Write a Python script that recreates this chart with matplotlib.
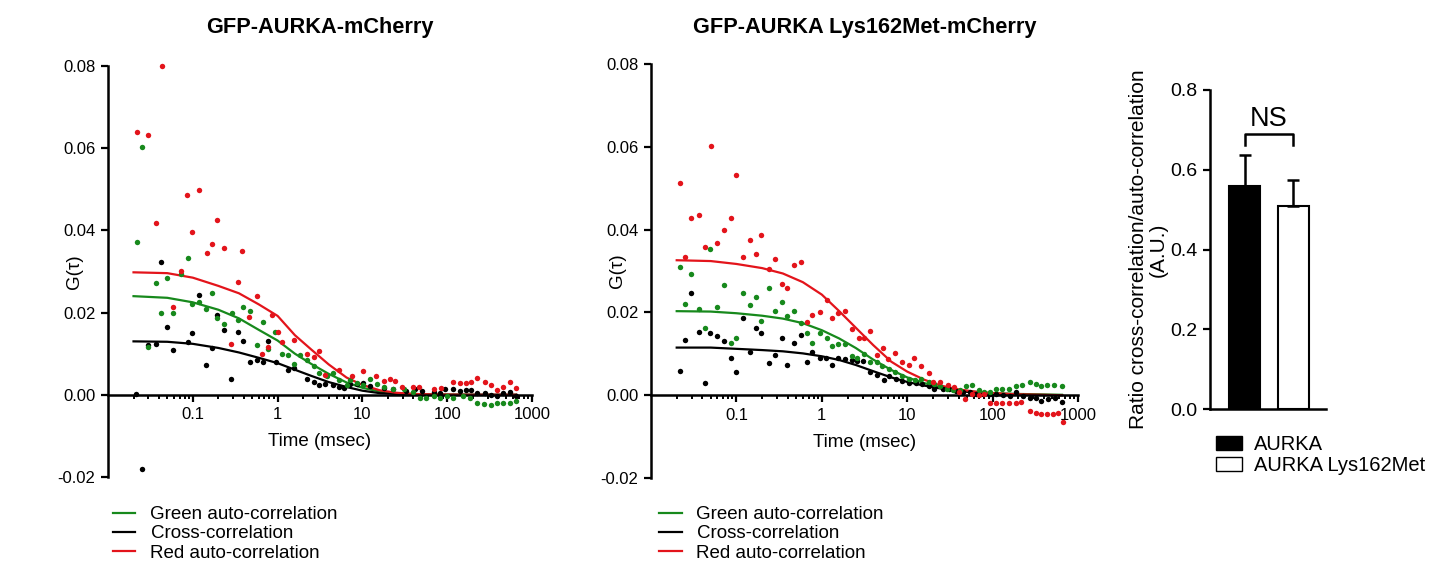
import matplotlib
matplotlib.use("Agg")
import matplotlib.pyplot as plt
from matplotlib.patches import Patch
from matplotlib.ticker import LogLocator, NullFormatter

plt.rcParams["font.family"] = ["Liberation Sans", "DejaVu Sans"]
plt.rcParams["axes.unicode_minus"] = False

# ---- FCS data, wild type (GFP-AURKA-mCherry) ----
wt_red_t = [0.0218, 0.0298, 0.0367, 0.0432, 0.059, 0.072, 0.085, 0.099, 0.118, 0.146, 0.17,
            0.195, 0.234, 0.285, 0.341, 0.385, 0.46, 0.575, 0.66, 0.78, 0.87, 1.0, 1.13, 1.55,
            2.24, 2.69, 3.1, 3.67, 5.25, 7.6, 10.3, 14.6, 17.8, 20.9, 24.0, 29.4, 40, 47, 69,
            85, 116, 140, 166, 190, 227, 281, 326, 384, 460, 550, 649]
wt_red_g = [0.064, 0.0631, 0.0419, 0.0801, 0.0214, 0.0301, 0.0486, 0.0396, 0.0498, 0.0346, 0.0366,
            0.0425, 0.0358, 0.0124, 0.0275, 0.035, 0.019, 0.024, 0.010, 0.0116, 0.0195, 0.0154,
            0.0128, 0.0134, 0.010, 0.0091, 0.0106, 0.0047, 0.0061, 0.0045, 0.0059, 0.0045, 0.0034,
            0.0039, 0.0034, 0.002, 0.002, 0.002, 0.0014, 0.0016, 0.003, 0.0028, 0.0028, 0.003,
            0.004, 0.003, 0.0024, 0.0012, 0.0018, 0.003, 0.0016]

wt_green_t = [0.0218, 0.0249, 0.03, 0.0367, 0.0427, 0.0494, 0.059, 0.072, 0.0866, 0.099, 0.118,
              0.145, 0.17, 0.195, 0.234, 0.287, 0.341, 0.39, 0.468, 0.575, 0.67, 0.78, 0.93, 1.13,
              1.33, 1.55, 1.86, 2.24, 2.69, 3.06, 3.8, 4.52, 5.35, 6.5, 7.2, 8.6, 10.3, 12.4, 14.8,
              17.8, 23, 30.6, 40, 48, 57, 69, 82, 99, 118, 155, 185, 227, 270, 330, 390, 460,
              550, 649]
wt_green_g = [0.0372, 0.0604, 0.0116, 0.0271, 0.0198, 0.0285, 0.0199, 0.0293, 0.0332, 0.022, 0.0225,
              0.0209, 0.0248, 0.0187, 0.0172, 0.0199, 0.0181, 0.0213, 0.0203, 0.012, 0.0177, 0.0111,
              0.0154, 0.0099, 0.0096, 0.0076, 0.0096, 0.0084, 0.0069, 0.0053, 0.0045, 0.0053, 0.0035,
              0.0024, 0.0037, 0.0028, 0.0024, 0.0038, 0.0026, 0.0019, 0.0014, 0.0014, 0.0008,
              -0.0007, -0.0007, -0.0004, -0.0007, -0.0004, -0.0007, -0.0004, -0.0007, -0.002,
              -0.0022, -0.0024, -0.002, -0.002, -0.002, -0.0016]

wt_cross_t = [0.0213, 0.025, 0.03, 0.0367, 0.0427, 0.049, 0.059, 0.087, 0.099, 0.118, 0.145, 0.17,
              0.195, 0.234, 0.285, 0.34, 0.39, 0.47, 0.575, 0.67, 0.78, 0.95, 1.33, 1.58, 2.24,
              2.69, 3.06, 3.67, 4.5, 5.35, 6.1, 7.2, 8.6, 10.3, 12.4, 17.8, 23, 33, 42, 50, 69, 82,
              95, 116, 140, 166, 190, 227, 281, 330, 384, 460, 550, 649]
wt_cross_g = [0.0002, -0.0181, 0.0122, 0.0124, 0.0323, 0.0165, 0.0108, 0.0128, 0.015, 0.0244,
              0.0073, 0.0114, 0.0193, 0.0157, 0.0038, 0.0152, 0.0132, 0.008, 0.0084, 0.0079,
              0.0132, 0.0079, 0.0061, 0.0065, 0.0039, 0.0032, 0.0024, 0.0026, 0.0024, 0.002,
              0.0016, 0.0026, 0.0026, 0.0028, 0.0022, 0.0016, 0.0014, 0.001, 0.0014, 0.001, 0.0008,
              0.0004, 0.0014, 0.0014, 0.001, 0.0012, 0.0012, 0.0004, 0.0004, 0.0, -0.0004, 0.0004,
              0.0006, -0.0004]

# fitted curves
fit_t = [0.02, 0.05, 0.1, 0.2, 0.35, 0.6, 1.0, 1.6, 2.5, 4, 6.5, 10, 16, 25, 40, 65, 100, 200, 650]
wt_red_fit = [0.0298, 0.0296, 0.0285, 0.0265, 0.0247, 0.0220, 0.0192, 0.0145, 0.0110, 0.0074,
              0.0042, 0.0024, 0.0011, 0.0005, 0.0002, 0.0001, 0.00005, 0.0, 0.0]
wt_green_fit = [0.0240, 0.0236, 0.0225, 0.0207, 0.0186, 0.0158, 0.0132, 0.0100, 0.0075, 0.0051,
                0.0030, 0.0017, 0.0008, 0.0004, 0.0002, 0.0001, 0.00005, 0.0, 0.0]
wt_cross_fit = [0.0130, 0.0129, 0.0124, 0.0114, 0.0103, 0.0090, 0.0077, 0.0061, 0.0046, 0.0031,
                0.0019, 0.0010, 0.0004, 0.0002, 0.0001, 0.0, 0.0, 0.0, 0.0]

# ---- FCS data, kinase dead (GFP-AURKA Lys162Met-mCherry) ----
mut_red_t = [0.0218, 0.0249, 0.0298, 0.0367, 0.0428, 0.0499, 0.0598, 0.0722, 0.0857, 0.099,
             0.1186, 0.145, 0.17, 0.195, 0.238, 0.285, 0.341, 0.391, 0.469, 0.571, 0.672, 0.769,
             0.94, 1.15, 1.32, 1.54, 1.86, 2.24, 2.73, 3.12, 3.67, 4.47, 5.26, 5.88, 7.2, 8.8,
             10.5, 12.1, 14.5, 17.8, 20.2, 24.3, 29.8, 35.7, 40.8, 48, 57.8, 69, 80, 93.7, 110,
             129, 155, 186, 217, 272, 320, 373, 437, 512, 588, 661]
mut_red_g = [0.0512, 0.0333, 0.0428, 0.0436, 0.0359, 0.0601, 0.0367, 0.0399, 0.0428, 0.0532,
             0.0334, 0.0375, 0.0341, 0.0386, 0.0306, 0.033, 0.0268, 0.026, 0.0314, 0.0322, 0.0176,
             0.0193, 0.0201, 0.0229, 0.0186, 0.0198, 0.0204, 0.0159, 0.0137, 0.0139, 0.0155,
             0.0097, 0.0115, 0.0087, 0.0103, 0.0079, 0.0072, 0.0089, 0.0071, 0.0053, 0.0031,
             0.0031, 0.0024, 0.0019, 0.0007, -0.0008, 0.0002, 0.0, 0.0002, -0.0019, -0.0018,
             -0.0019, -0.0019, -0.0018, -0.0016, -0.0038, -0.0042, -0.0046, -0.0046, -0.0046,
             -0.0043, -0.0064]

mut_green_t = [0.0218, 0.0249, 0.0298, 0.0367, 0.0428, 0.049, 0.0598, 0.0722, 0.0857, 0.099,
               0.1186, 0.145, 0.17, 0.195, 0.238, 0.285, 0.341, 0.391, 0.469, 0.571, 0.672, 0.769,
               0.94, 1.15, 1.32, 1.54, 1.86, 2.27, 2.6, 3.12, 3.67, 4.47, 5.1, 6.1, 7.2, 8.8, 10.5,
               12.4, 14.5, 17.8, 20.7, 24.3, 29.1, 34.7, 41.6, 49, 57.8, 69, 80, 93.7, 110, 129,
               155, 186, 222, 272, 320, 373, 437, 530, 644]
mut_green_g = [0.031, 0.022, 0.0292, 0.0208, 0.0163, 0.0354, 0.0213, 0.0266, 0.0126, 0.0138,
               0.0246, 0.0217, 0.0237, 0.018, 0.026, 0.0204, 0.0225, 0.0192, 0.0204, 0.0174,
               0.0150, 0.0127, 0.0151, 0.0137, 0.0119, 0.0123, 0.0123, 0.0095, 0.0091, 0.0099,
               0.0079, 0.0079, 0.0071, 0.0063, 0.0055, 0.0047, 0.004, 0.0037, 0.004, 0.0031,
               0.0027, 0.0022, 0.0016, 0.0013, 0.0013, 0.0022, 0.0024, 0.0013, 0.0007, 0.0008,
               0.0016, 0.0016, 0.0016, 0.0022, 0.0024, 0.0031, 0.0027, 0.0022, 0.0024, 0.0024,
               0.0022]

mut_cross_t = [0.0218, 0.0249, 0.0298, 0.0367, 0.0428, 0.049, 0.0598, 0.0722, 0.0857, 0.099,
               0.1186, 0.145, 0.17, 0.195, 0.238, 0.285, 0.341, 0.391, 0.469, 0.571, 0.672, 0.769,
               0.94, 1.13, 1.32, 1.54, 1.86, 2.24, 2.6, 3.07, 3.67, 4.47, 5.35, 6.1, 7.4, 8.8,
               10.5, 12.7, 15, 18.1, 20.7, 26, 31, 37, 44.6, 53.7, 64, 77, 92, 110, 132, 158, 189,
               226, 272, 326, 373, 447, 535, 644]
mut_cross_g = [0.0059, 0.0134, 0.0246, 0.0153, 0.0029, 0.0151, 0.0143, 0.0131, 0.0091, 0.0055,
               0.0186, 0.0105, 0.0163, 0.015, 0.0077, 0.0097, 0.0137, 0.0072, 0.0127, 0.0145,
               0.0079, 0.0105, 0.0091, 0.0091, 0.0072, 0.0089, 0.0087, 0.0085, 0.0083, 0.0083,
               0.0055, 0.0048, 0.0037, 0.0047, 0.004, 0.0035, 0.0029, 0.0029, 0.0027, 0.0022,
               0.0016, 0.0016, 0.0015, 0.001, 0.0007, 0.0007, 0.0004, 0.0004, 0.0002, 0.0004, 0.0,
               -0.0002, 0.0007, -0.0002, -0.0006, -0.0006, -0.0014, -0.001, -0.0006, -0.0016]

mut_red_fit = [0.0326, 0.0324, 0.0317, 0.0307, 0.0294, 0.0273, 0.0243, 0.0203, 0.0163, 0.0121,
               0.0081, 0.0057, 0.0037, 0.0023, 0.0014, 0.0008, 0.0005, 0.0002, 0.0]
mut_green_fit = [0.0203, 0.0202, 0.0198, 0.0192, 0.0185, 0.0174, 0.0157, 0.0137, 0.0114, 0.0086,
                 0.0061, 0.0043, 0.0029, 0.0019, 0.0012, 0.0008, 0.0005, 0.0003, 0.0001]
mut_cross_fit = [0.0115, 0.0115, 0.0112, 0.0109, 0.0106, 0.0101, 0.0094, 0.0085, 0.0073, 0.0058,
                 0.0043, 0.0032, 0.0023, 0.0016, 0.0010, 0.0006, 0.0003, 0.0001, 0.0]

# ---- bar chart ----
bar_labels = ["AURKA", "AURKA Lys162Met"]
ratio_mean = [0.56, 0.508]
ratio_err = [0.078, 0.066]

RED = "#e3141b"
GREEN = "#17891c"
BLACK = "#000000"
COLS = [GREEN, BLACK, RED]


def fcs_panel(ax, title, pts, fits, legend_xy):
    handles = []
    for (ft, fg), c in zip(fits, COLS):
        h, = ax.plot(ft, fg, color=c, lw=1.6, zorder=2)
        handles.append(h)
    # dots: cross first, then green, then red on top
    for i in [1, 0, 2]:
        t, g = pts[i]
        ax.plot(t, g, "o", ms=3.9, mec="none", color=COLS[i], zorder=3, clip_on=False)

    ax.set_xscale("log")
    ax.set_xlim(0.01, 1000)
    ax.set_ylim(-0.02, 0.08)
    ax.set_xticks([0.1, 1, 10, 100, 1000])
    ax.set_xticklabels(["0.1", "1", "10", "100", "1000"])
    ax.xaxis.set_minor_locator(LogLocator(base=10, subs=range(2, 10), numticks=20))
    ax.xaxis.set_minor_formatter(NullFormatter())
    ax.set_yticks([-0.02, 0.0, 0.02, 0.04, 0.06, 0.08])
    ax.set_yticklabels(["-0.02", "0.00", "0.02", "0.04", "0.06", "0.08"])
    for s in ["top", "right"]:
        ax.spines[s].set_visible(False)
    ax.spines["bottom"].set_position(("data", 0))
    ax.spines["left"].set_linewidth(1.8)
    ax.spines["bottom"].set_linewidth(1.8)
    ax.tick_params(axis="both", which="major", labelsize=12, width=1.6, length=5, pad=4)
    ax.tick_params(axis="x", which="minor", width=1.4, length=3)
    ax.set_xlabel("Time (msec)", fontsize=13.5, labelpad=8)
    ax.set_ylabel("G(τ)", fontsize=13.5)
    ax.yaxis.set_label_coords(-0.058, 0.5)
    pos = ax.get_position()
    fig.text((pos.x0 + pos.x1) / 2, 1 - 28 / 562, title, fontsize=15.7, fontweight="bold",
             ha="center", va="center")
    ax.legend(handles=handles,
              labels=["Green auto-correlation", "Cross-correlation", "Red auto-correlation"],
              loc="upper left", bbox_to_anchor=legend_xy, bbox_transform=fig.transFigure,
              frameon=False, fontsize=13.5, handlelength=1.2, handletextpad=0.8,
              labelspacing=0.12, borderpad=0, borderaxespad=0)


fig = plt.figure(figsize=(14.38, 5.62), dpi=100)

ax1 = fig.add_axes([108 / 1438, 85 / 562, 424 / 1438, 411 / 562])
fcs_panel(ax1, "GFP-AURKA-mCherry",
          [(wt_green_t, wt_green_g), (wt_cross_t, wt_cross_g), (wt_red_t, wt_red_g)],
          [(fit_t, wt_green_fit), (fit_t, wt_cross_fit), (fit_t, wt_red_fit)],
          (113 / 1438, 1 - 506 / 562))

ax2 = fig.add_axes([651 / 1438, 84 / 562, 427 / 1438, 414 / 562])
fcs_panel(ax2, "GFP-AURKA Lys162Met-mCherry",
          [(mut_green_t, mut_green_g), (mut_cross_t, mut_cross_g), (mut_red_t, mut_red_g)],
          [(fit_t, mut_green_fit), (fit_t, mut_cross_fit), (fit_t, mut_red_fit)],
          (659 / 1438, 1 - 506 / 562))

# bar chart
ax3 = fig.add_axes([1210 / 1438, 153 / 562, 116 / 1438, 319 / 562])
xpos = [0, 1]
ax3.bar(xpos, ratio_mean, width=0.64, color=["black", "white"], edgecolor="black",
        linewidth=1.5, zorder=2)
ax3.errorbar(xpos, ratio_mean, yerr=[[0, 0], ratio_err], fmt="none", ecolor="black",
             elinewidth=1.8, capsize=4.5, capthick=1.8, zorder=3)
ax3.plot([0, 0, 1, 1], [0.662, 0.69, 0.69, 0.662], color="black", lw=1.8)
ax3.text(0.5, 0.728, "NS", ha="center", va="center", fontsize=19.5)
ax3.set_xlim(-0.72, 1.68)
ax3.set_ylim(0, 0.8)
ax3.set_yticks([0.0, 0.2, 0.4, 0.6, 0.8])
ax3.set_yticklabels(["0.0", "0.2", "0.4", "0.6", "0.8"])
ax3.set_xticks([])
for s in ["top", "right"]:
    ax3.spines[s].set_visible(False)
ax3.spines["left"].set_linewidth(1.8)
ax3.spines["bottom"].set_linewidth(1.8)
ax3.tick_params(axis="y", labelsize=14, width=1.6, length=5, pad=4)
ax3.set_ylabel("Ratio cross-correlation/auto-correlation\n(A.U.)", fontsize=15,
               multialignment="center", linespacing=1.1)
ax3.yaxis.set_label_coords(-0.36, 0.5)
ax3.legend(handles=[Patch(facecolor="black", edgecolor="black"),
                    Patch(facecolor="white", edgecolor="black")],
           labels=bar_labels, loc="upper left", bbox_to_anchor=(1216 / 1438, 1 - 435 / 562),
           bbox_transform=fig.transFigure, frameon=False, fontsize=14.5, handlelength=1.3,
           handleheight=0.65, handletextpad=0.6, labelspacing=0.1, borderpad=0, borderaxespad=0)

fig.savefig("out.png", dpi=100)
